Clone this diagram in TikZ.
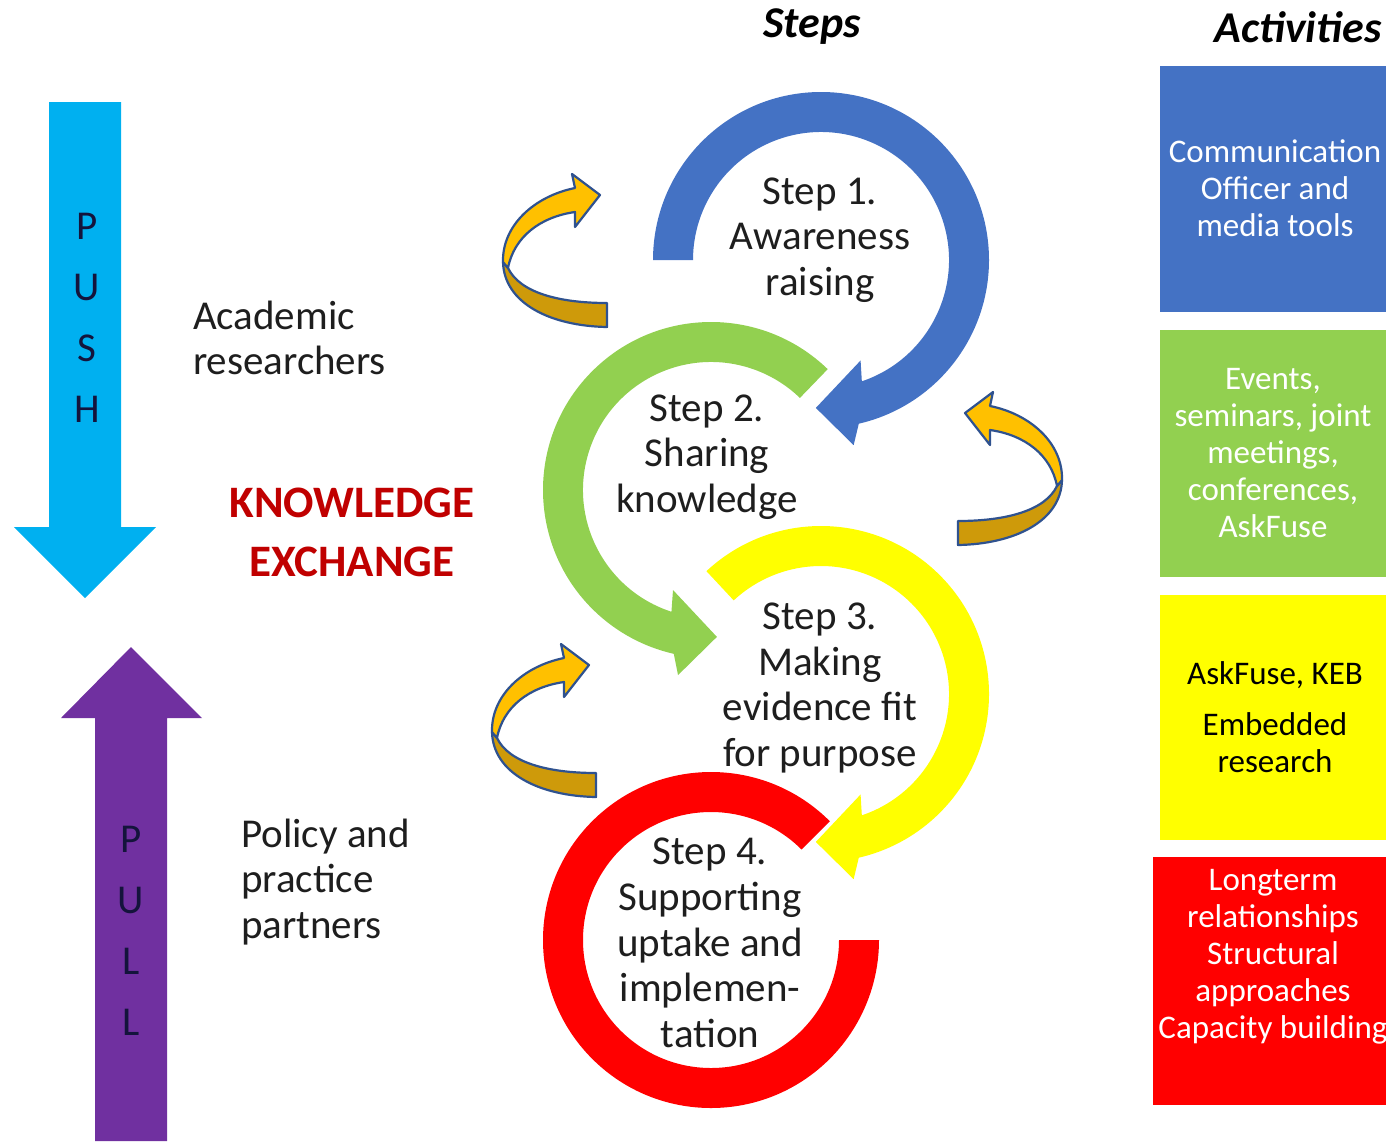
\documentclass[tikz,border=0pt]{standalone}
\usepackage{fontspec}
\setmainfont{Carlito}
\definecolor{pushC}{RGB}{0,176,240}
\definecolor{pullC}{RGB}{112,48,160}
\definecolor{blueC}{RGB}{68,114,196}
\definecolor{greenC}{RGB}{146,208,80}
\definecolor{yellowC}{RGB}{255,255,0}
\definecolor{redC}{RGB}{255,0,0}
\definecolor{keC}{RGB}{192,0,0}
\definecolor{txtC}{RGB}{30,30,30}
\definecolor{letC}{RGB}{20,20,60}
\definecolor{orLight}{RGB}{255,192,0}
\definecolor{orDark}{RGB}{206,154,10}
\definecolor{orLine}{RGB}{47,82,143}
\newcommand\orarrowshape{%
    \filldraw[orpart,fill=orDark] (-97,67) .. controls (-96,108) and (-50,131) .. (7,132) -- (7,108) .. controls (-40,108) and (-80,98) .. (-92,73) -- cycle;
    \filldraw[orpart,fill=orLight] (-97,67) .. controls (-98,30) and (-65,1) .. (-25,-7) -- (-28,-21) -- (0,0) -- (-25,32) -- (-25,17) .. controls (-60,22) and (-86,42) .. (-92,73) -- cycle;
}
\tikzset{
  steptext/.style={align=center,text=txtC,font=\fontsize{20.5}{22.8}\selectfont},
  sidetext/.style={align=left,anchor=west,text=txtC,font=\fontsize{20.5}{22.8}\selectfont},
  acttext/.style={align=center,font=\fontsize{16.5}{18.5}\selectfont},
  titletext/.style={text=black,font=\fontsize{22}{26}\selectfont\bfseries\itshape},
  lettertext/.style={align=center,text=letC,font=\fontsize{20.5}{30.5}\selectfont},
  orpart/.style={draw=orLine,line width=1.1pt,line join=round}
}
\begin{document}
\begin{tikzpicture}[x=0.5pt,y=-0.5pt]
\useasboundingbox (0,0) rectangle (1386,1141);
% push / pull arrows
\fill[pushC] (49,102) -- (121,102) -- (121,527) -- (156,527) -- (85,598) -- (14,527) -- (49,527) -- cycle;
\fill[pullC] (131,647) -- (202,718) -- (167,718) -- (167,1141) -- (95,1141) -- (95,718) -- (61,718) -- cycle;
\node[lettertext] (push) at (87,318) {P\\U\\S\\H};
\node[lettertext] (pull) at (131,931) {P\\U\\L\\L};
% side texts
\node[sidetext] (acad) at (186,338) {Academic\\researchers};
\node[sidetext] (policy) at (234,882) {Policy and\\practice\\partners};
\node[align=center,text=keC,font=\fontsize{22.5}{29.5}\selectfont\bfseries] (ke) at (352,532) {KNOWLEDGE\\EXCHANGE};
% titles
\node[titletext] (steps) at (812,27) {Steps};
\node[titletext] (acts) at (1298,27) {Activities};
% rings
\begin{scope}[shift={(711,940)}]
\fill[redC] (315:168) arc[start angle=315, end angle=0, radius=168] -- (0:128) arc[start angle=0, end angle=315, radius=128] -- cycle;
\end{scope}
\begin{scope}[shift={(821,694)}]
\fill[yellowC] (227:168) arc[start angle=227, end angle=437, radius=168] -- (440:188) -- (452:148) -- (428.5:108) -- (431.4:128) arc[start angle=431.4, end angle=227, radius=128] -- cycle;
\end{scope}
\begin{scope}[shift={(711,490)}]
\fill[greenC] (314:168) arc[start angle=314, end angle=102.8, radius=168] -- (100.1:188) -- (87.7:147) -- (110.8:107) -- (108:128) arc[start angle=108, end angle=314, radius=128] -- cycle;
\end{scope}
\begin{scope}[shift={(821,260)}]
\fill[blueC] (180:168) arc[start angle=180, end angle=437, radius=168] -- (440:188) -- (452:148) -- (428.5:108) -- (431.4:128) arc[start angle=431.4, end angle=180, radius=128] -- cycle;
\end{scope}
% orange curved arrows
\begin{scope}[shift={(600,195)}]
\orarrowshape
\end{scope}
\begin{scope}[shift={(589,665)}]
\orarrowshape
\end{scope}
\begin{scope}[shift={(965,413)},xscale=-1]
\orarrowshape
\end{scope}
% step texts
\node[steptext] (s1) at (820,240) {Step 1.\\Awareness\\raising};
\node[steptext] (s2) at (707,457) {Step 2.\\Sharing\\knowledge};
\node[steptext] (s3) at (820,688) {Step 3.\\Making\\evidence fit\\for purpose};
\node[steptext] (s4) at (710,943) {Step 4.\\Supporting\\uptake and\\implemen-\\tation};
% activity boxes
\fill[blueC] (1160,66) rectangle (1386,312);
\fill[greenC] (1160,330) rectangle (1386,577);
\fill[yellowC] (1160,595) rectangle (1386,840);
\fill[redC] (1153,857) rectangle (1386,1105);
\node[acttext,text=white] (a1) at (1275,188) {Communication\\Officer and\\media tools};
\node[acttext,text=white] (a2) at (1273,453) {Events,\\seminars, joint\\meetings,\\conferences,\\AskFuse};
\node[acttext,text=black] (a3) at (1275,717) {AskFuse, KEB\\[7pt]Embedded\\research};
\node[acttext,text=white] (a4) at (1273,957) {Longterm\\relationships\\Structural\\approaches\\Capacity building};
\end{tikzpicture}
\end{document}
